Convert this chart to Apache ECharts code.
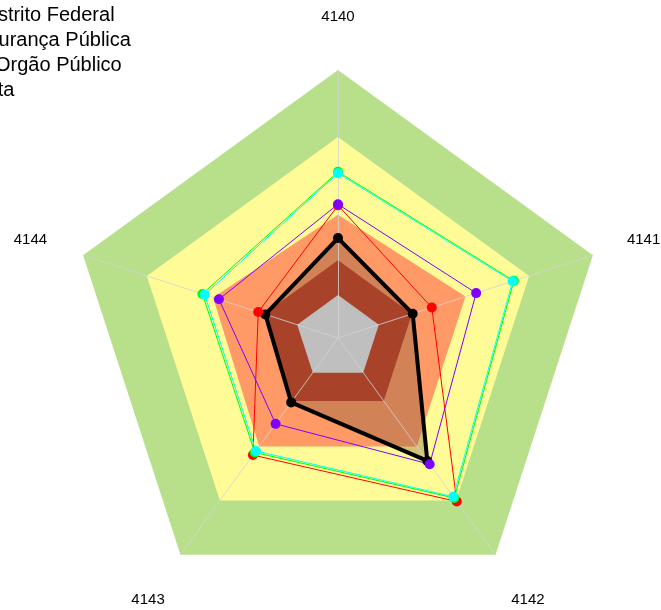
<!DOCTYPE html>
<html>
<head>
<meta charset="utf-8">
<script src="https://cdn.jsdelivr.net/npm/echarts@6/dist/echarts.min.js"></script>
<style>
  html, body { margin: 0; padding: 0; background: #fff; }
  #chart { width: 661px; height: 610px; }
</style>
</head>
<body>
<div id="chart"></div>
<script>
// eixos (sentido horário a partir do topo)
const categories = ['4140', '4141', '4142', '4143', '4144'];

// faixas de referência
const faixaVerde = [100, 100, 100, 100, 100];
const faixaAmarela = [75, 75, 75, 75, 75];
const faixaLaranja = [46, 50, 50, 50, 49];
const faixaVermelha = [29, 29, 29, 29, 29];
const faixaCinza = [16, 16, 16, 16, 16];

// séries
const orgaoPublico = [37.3, 29.3, 56.7, 29.7, 28.5];
const distritoFederal = [49.5, 36.8, 75.4, 54.0, 31.3];
const segurancaPublica = [49.9, 54.2, 58.2, 39.6, 46.7];
const brasil = [62.0, 69.0, 73.8, 52.8, 53.2];
const meta = [61.5, 68.5, 73.2, 52.1, 52.3];

const legendNames = ['Distrito Federal', 'Segurança Pública', 'Orgão Público', 'Meta'];

// echarts desenha o radar no sentido anti-horário
const order = [0, 4, 3, 2, 1];
const pick = arr => order.map(i => arr[i]);

const font = 'Liberation Sans, Arial, sans-serif';

function band(name, values, color) {
  return {
    name: name,
    type: 'radar',
    z: 1,
    silent: true,
    symbol: 'none',
    lineStyle: { width: 0 },
    areaStyle: { color: color, opacity: 1 },
    data: [{ value: pick(values) }]
  };
}

function line(name, values, color, width) {
  return {
    name: name,
    type: 'radar',
    z: 3,
    symbol: 'circle',
    symbolSize: 10,
    lineStyle: { color: color, width: width },
    itemStyle: { color: color },
    data: [{ value: pick(values) }]
  };
}

// deslocamento dos rótulos dos eixos
const namePad = {
  '4140': [0, 0, 26, 0],
  '4141': [0, 0, 18, 15],
  '4142': [58, 0, 0, 4],
  '4143': [58, 4, 0, 0],
  '4144': [0, 17, 18, 0]
};
const nameRich = {};
categories.forEach((c, i) => {
  nameRich['n' + i] = { padding: namePad[c], fontSize: 15, fontFamily: font, color: '#000' };
});

const legendPad = [19, 3, 35, 10];
const legendRich = {};
legendNames.forEach((n, i) => {
  legendRich['l' + i] = { padding: [0, 0, 0, legendPad[i]], fontSize: 20, lineHeight: 20, fontFamily: font, color: '#000' };
});

const chart = echarts.init(document.getElementById('chart'));
chart.setOption({
  animation: false,
  backgroundColor: '#fff',
  legend: {
    data: legendNames,
    orient: 'vertical',
    left: -70,
    top: 5,
    padding: 0,
    itemGap: 5,
    itemWidth: 25,
    itemHeight: 20,
    formatter: name => '{l' + legendNames.indexOf(name) + '|' + name + '}',
    textStyle: { fontSize: 20, fontFamily: font, color: '#000', rich: legendRich }
  },
  radar: {
    z: 2,
    center: [338, 338],
    radius: 268,
    startAngle: 90,
    shape: 'polygon',
    splitNumber: 1,
    nameGap: 20,
    indicator: pick(categories).map(c => ({ name: c, min: 0, max: 100 })),
    axisName: {
      color: '#000',
      fontSize: 15,
      fontFamily: font,
      formatter: name => '{n' + categories.indexOf(name) + '|' + name + '}',
      rich: nameRich
    },
    axisLine: { lineStyle: { color: '#D3D3D3', width: 1, opacity: 0.8 } },
    splitLine: { show: false },
    splitArea: { show: false }
  },
  series: [
    band('faixa verde', faixaVerde, '#B8E08A'),
    band('faixa amarela', faixaAmarela, '#FFFC97'),
    band('faixa laranja', faixaLaranja, '#FF9966'),
    {
      name: 'Orgão Público',
      type: 'radar',
      z: 1,
      silent: true,
      symbol: 'none',
      lineStyle: { width: 0 },
      areaStyle: { color: 'rgba(125,87,58,0.5)' },
      data: [{ value: pick(orgaoPublico) }]
    },
    band('faixa vermelha', faixaVermelha, '#A8432A'),
    band('faixa cinza', faixaCinza, '#BFBFBF'),
    line('Orgão Público', orgaoPublico, '#000000', 4),
    line('Distrito Federal', distritoFederal, '#FF0000', 1),
    line('Segurança Pública', segurancaPublica, '#8000FF', 1),
    line('Brasil', brasil, '#00FF00', 1),
    line('Meta', meta, '#00FFFF', 1)
  ]
});
</script>
</body>
</html>
